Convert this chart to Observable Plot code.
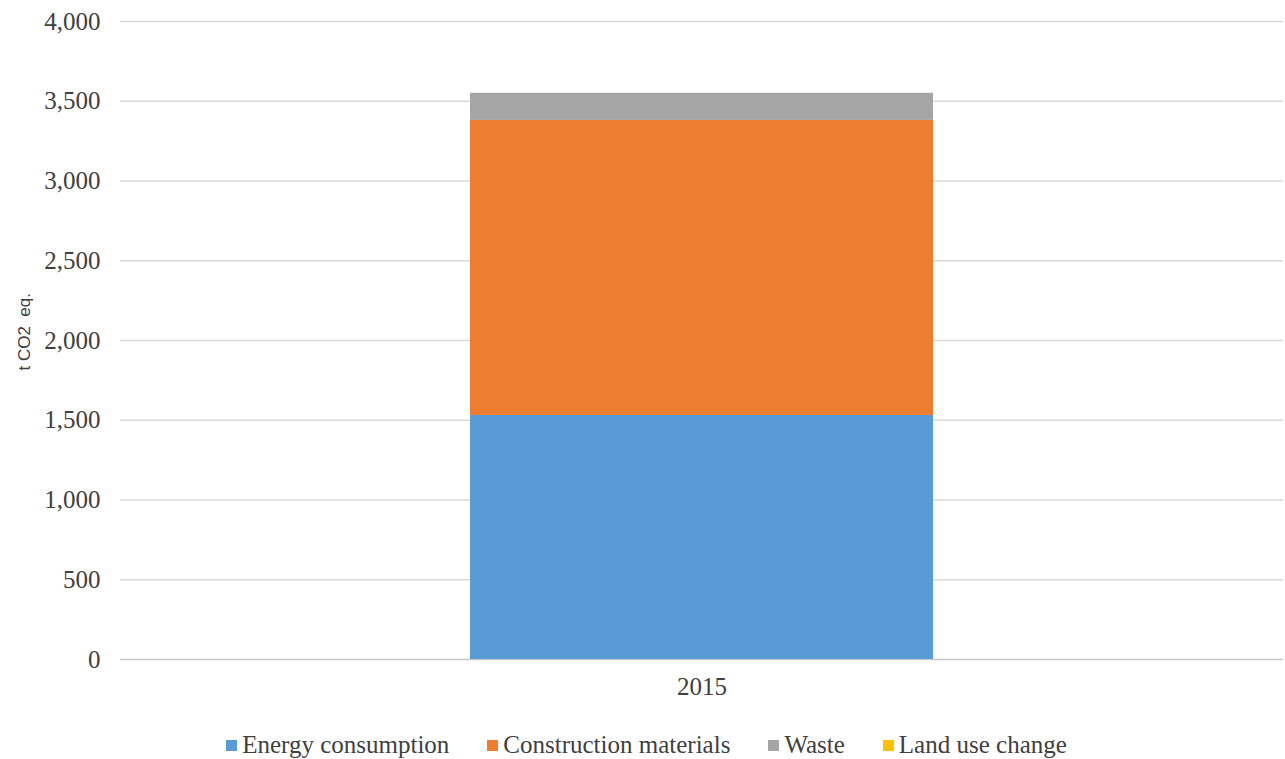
<!DOCTYPE html>
<html><head><meta charset="utf-8">
<script src="https://cdn.jsdelivr.net/npm/d3@7"></script>
<script src="https://cdn.jsdelivr.net/npm/@observablehq/plot@0.6"></script>
<style>
html,body{margin:0;padding:0;background:#fff;overflow:hidden}
#legend{display:flex;justify-content:center;align-items:center;padding-top:16px;height:28px;font-family:"Liberation Serif",serif;font-size:25px;color:#404040;padding-left:8px}
.item{display:flex;align-items:center;margin:0 19px}
.sw{width:11px;height:11px;margin-right:5px}
</style></head><body><div id="chart"></div><div id="legend"></div>
<script>
const years = ["2015"];
const categories = ["Energy consumption", "Construction materials", "Waste", "Land use change"];
const values2015 = [1530, 1850, 170, 0];
const colors = ["#5B9BD5", "#ED7D31", "#A5A5A5", "#FFC000"];
const yTicks = [0, 500, 1000, 1500, 2000, 2500, 3000, 3500, 4000];
const yLabel = "t CO2  eq.";

const data = categories.map((c, i) => ({year: years[0], category: c, value: values2015[i]}));
const serif = "Liberation Serif, serif";

const chart = Plot.plot({
  width: 1285,
  height: 715,
  marginTop: 21,
  marginBottom: 56,
  marginLeft: 120,
  marginRight: 2,
  style: {fontFamily: serif, fontSize: "25px", color: "#404040", background: "#fff"},
  x: {domain: years, padding: 0.43, label: null},
  y: {domain: [0, 4000], label: null},
  color: {domain: categories, range: colors},
  marks: [
    Plot.ruleY(yTicks.filter(d => d > 0), {stroke: "#d9d9d9", strokeWidth: 1.5}),
    Plot.ruleY([0], {stroke: "#c8c8c8", strokeWidth: 1.5}),
    Plot.barY(data, {x: "year", y: "value", fill: "category", order: categories}),
    Plot.axisY({ticks: yTicks, tickSize: 0, tickPadding: 20, tickFormat: d3.format(","), fontSize: 25, fontFamily: serif, label: null}),
    Plot.axisX({tickSize: 0, tickPadding: 18, fontSize: 25, fontFamily: serif, label: null}),
    Plot.text([yLabel], {text: d => d, frameAnchor: "left", rotate: -90, dx: -96, dy: 30, fontFamily: "Liberation Sans, Arial, sans-serif", fontSize: 17, fill: "#404040", style: "white-space:pre"})
  ]
});
document.getElementById("chart").appendChild(chart);

const legend = document.getElementById("legend");
categories.forEach((c, i) => {
  const it = document.createElement("div");
  it.className = "item";
  const sw = document.createElement("span");
  sw.className = "sw";
  sw.style.background = colors[i];
  const tx = document.createElement("span");
  tx.textContent = c;
  it.appendChild(sw); it.appendChild(tx);
  legend.appendChild(it);
});
</script></body></html>
